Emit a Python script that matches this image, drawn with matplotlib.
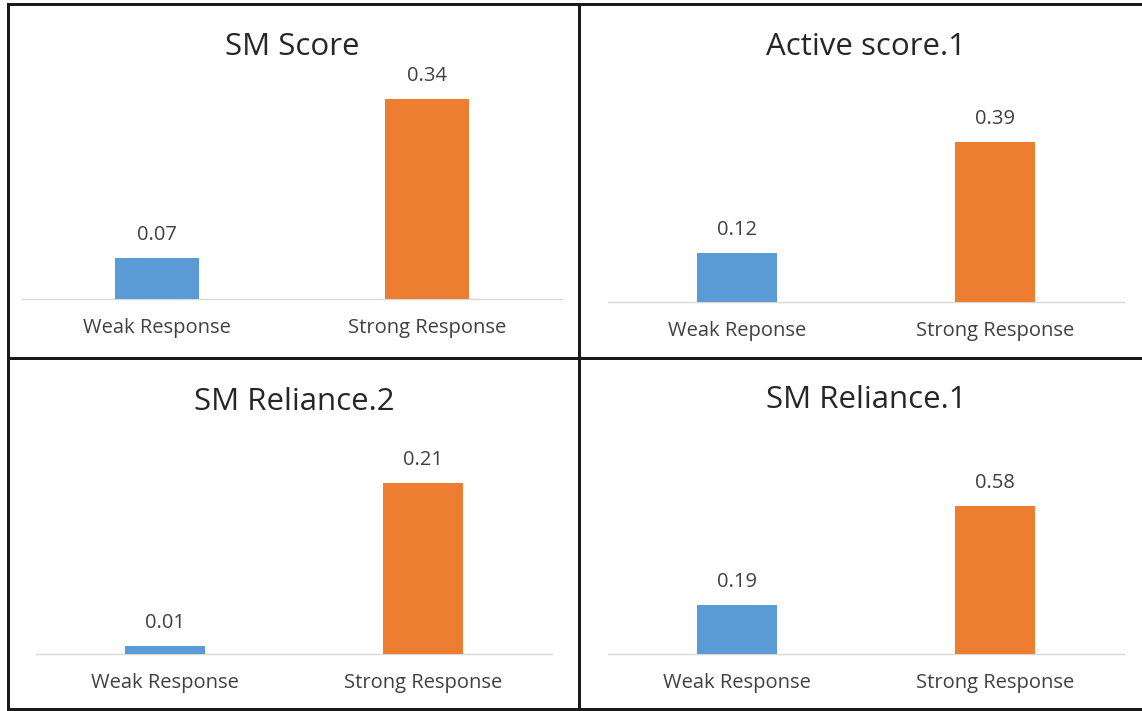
import matplotlib
matplotlib.use("Agg")
import matplotlib.pyplot as plt
from matplotlib.lines import Line2D

# ---- data ----
titles = ["SM Score", "Active score.1", "SM Reliance.2", "SM Reliance.1"]
categories = [
    ["Weak Response", "Strong Response"],
    ["Weak Reponse", "Strong Response"],
    ["Weak Response", "Strong Response"],
    ["Weak Response", "Strong Response"],
]
weak_values = [0.07, 0.12, 0.01, 0.19]
strong_values = [0.34, 0.39, 0.21, 0.58]
y_max = [0.4, 0.5, 0.25, 0.7]

# ---- layout (pixels) ----
W, H = 1142, 711
panels = [
    # left, right, baseline, top, title_x, title_y
    (22, 562, 299, 64, 292, 47),
    (608, 1124, 302, 97, 866, 47),
    (36, 552, 654, 450, 294, 402),
    (608, 1124, 654, 475, 866, 400),
]

BLUE = "#5B9BD5"
ORANGE = "#ED7D31"
FONT = "Open Sans"

plt.rcParams["font.family"] = [FONT, "DejaVu Sans"]
fig = plt.figure(figsize=(W / 100, H / 100), dpi=100)
fig.patch.set_facecolor("white")


def fx(x):
    return x / W


def fy(y):
    return 1 - y / H


for i in range(4):
    l, r, base, top, tx, ty = panels[i]
    ax = fig.add_axes([fx(l), fy(base), fx(r) - fx(l), fy(top) - fy(base)])
    vals = [weak_values[i], strong_values[i]]
    ax.bar([0, 1], vals, width=0.31, color=[BLUE, ORANGE], zorder=3)
    ax.set_xlim(-0.5, 1.5)
    ax.set_ylim(0, y_max[i])
    for s in ["top", "right", "left"]:
        ax.spines[s].set_visible(False)
    ax.spines["bottom"].set_color("#D9D9D9")
    ax.spines["bottom"].set_linewidth(1.0)
    ax.set_xticks([])
    ax.set_yticks([])
    ax.patch.set_alpha(0)
    for j, v in enumerate(vals):
        ax.annotate(f"{v:.2f}", xy=(j, v), xytext=(0, 23 * 0.72),
                    textcoords="offset points", ha="center", va="center",
                    fontsize=14.5, color="#404040")
        ax.annotate(categories[i][j], xy=(j, 0), xycoords=("data", "axes fraction"),
                    xytext=(0, -29 * 0.72), textcoords="offset points",
                    ha="center", va="center", fontsize=14.5, color="#404040")
    fig.text(fx(tx), fy(ty), titles[i], ha="center", va="center",
             fontsize=22.5, color="#262626")

# ---- frame lines ----
lw = 3 * 0.72
col = "#1a1a1a"
segs = [
    ((8, 8), (4, 709)),
    ((8, 1142), (4, 4)),
    ((8, 1142), (709, 709)),
    ((579, 579), (4, 709)),
    ((8, 1142), (358, 358)),
]
for xs, ys in segs:
    fig.add_artist(Line2D([fx(xs[0]), fx(xs[1])], [fy(ys[0]), fy(ys[1])],
                          transform=fig.transFigure, color=col, lw=lw))

fig.savefig("out.png", dpi=100)
